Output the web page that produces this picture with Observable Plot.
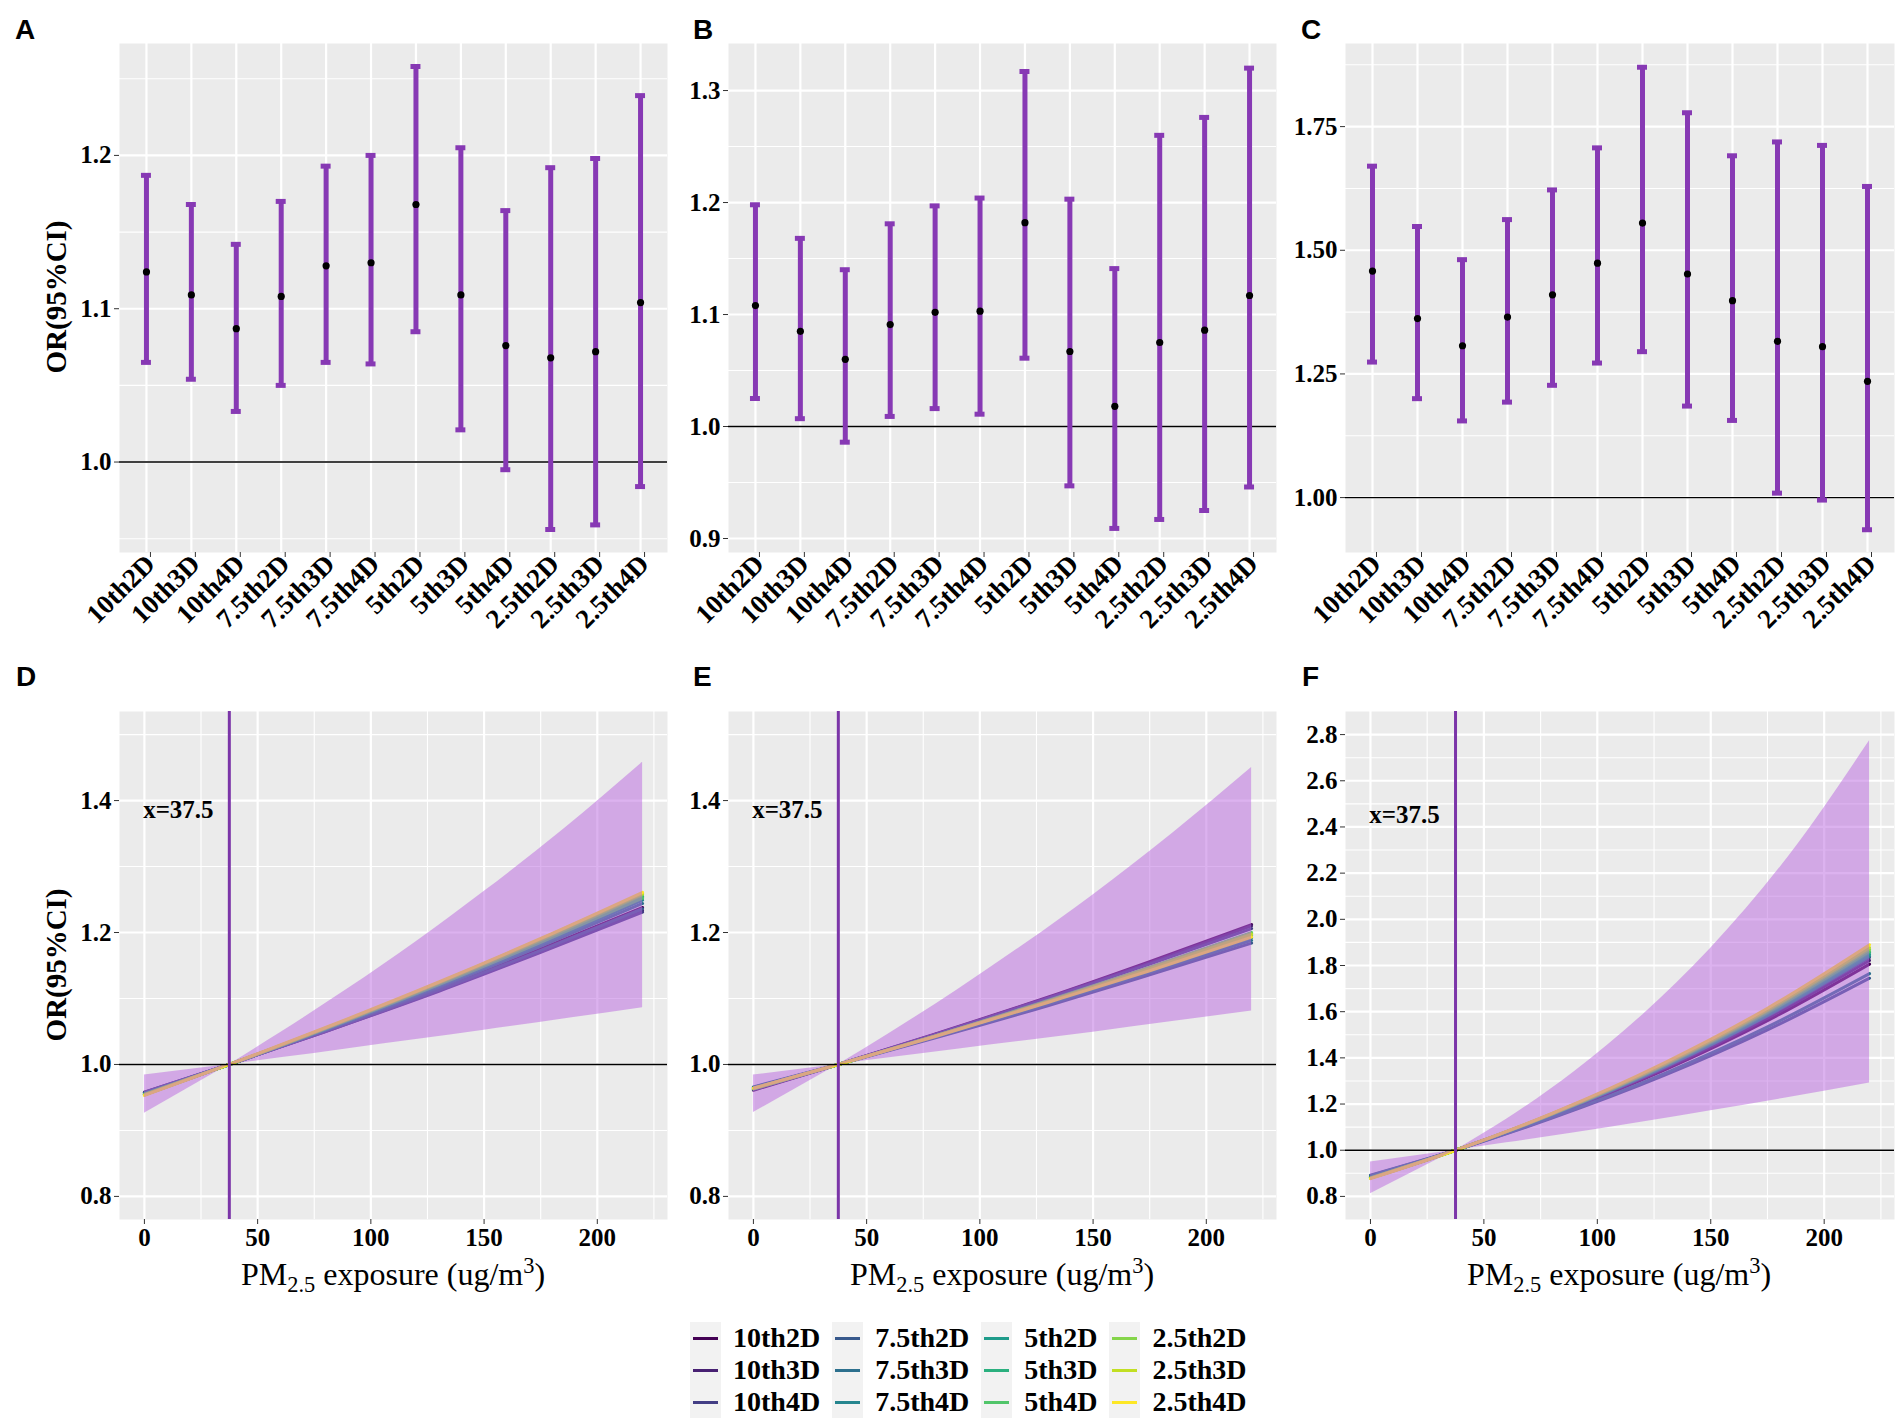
<!DOCTYPE html>
<html><head><meta charset="utf-8">
<script src="https://cdn.jsdelivr.net/npm/d3@7"></script>
<script src="https://cdn.jsdelivr.net/npm/@observablehq/plot@0.6"></script>
<style>
html,body{margin:0;padding:0;background:#fff;}
#root{position:relative;width:1901px;height:1425px;overflow:hidden;background:#fff;}
.panel{position:absolute;}
.panel svg{overflow:visible;display:block;}
.letter{position:absolute;font-family:"Liberation Sans",Arial,sans-serif;font-weight:bold;font-size:28px;line-height:28px;color:#000;}
.ytitle{position:absolute;font-family:"Liberation Serif",serif;font-weight:bold;font-size:29px;line-height:29px;white-space:nowrap;transform:translate(-50%,-50%) rotate(-90deg);color:#000;}
.xtitle{position:absolute;font-family:"Liberation Serif",serif;font-size:32px;line-height:32px;white-space:nowrap;transform:translateX(-50%);color:#000;}
.xtitle sub,.xtitle sup{font-size:70%;line-height:0;}
.legend{position:absolute;left:690px;top:1322px;display:grid;grid-template-rows:repeat(3,32px);grid-auto-flow:column;grid-auto-columns:max-content;font-family:"Liberation Serif",serif;font-weight:bold;font-size:28px;}
.legend .item{display:flex;align-items:center;height:32px;}
.legend .key{width:31px;height:32px;background:#F2F2F2;display:flex;align-items:center;justify-content:center;}
.legend .key span{display:block;width:25px;height:3px;}
.legend .lab{margin-left:12px;margin-right:12px;line-height:32px;}
</style></head><body><div id="root"></div>
<script>
// ---------- data ----------
const categories = ["10th2D","10th3D","10th4D","7.5th2D","7.5th3D","7.5th4D","5th2D","5th3D","5th4D","2.5th2D","2.5th3D","2.5th4D"];
const seriesColors = ["#440154","#482173","#433E85","#38598C","#2D708E","#25858E","#1E9B8A","#2BB07F","#51C56A","#85D54A","#C2DF23","#FDE725"];

const orA   = [1.124,1.109,1.087,1.108,1.128,1.130,1.168,1.109,1.076,1.068,1.072,1.104];
const lowA  = [1.065,1.054,1.033,1.050,1.065,1.064,1.085,1.021,0.995,0.956,0.959,0.984];
const highA = [1.187,1.168,1.142,1.170,1.193,1.200,1.258,1.205,1.164,1.192,1.198,1.239];

const orB   = [1.108,1.085,1.060,1.091,1.102,1.103,1.182,1.067,1.018,1.075,1.086,1.117];
const lowB  = [1.025,1.007,0.986,1.009,1.016,1.011,1.061,0.947,0.909,0.917,0.925,0.946];
const highB = [1.198,1.168,1.140,1.181,1.197,1.204,1.317,1.203,1.141,1.260,1.276,1.320];

const orC   = [1.458,1.362,1.307,1.365,1.410,1.474,1.555,1.452,1.398,1.316,1.305,1.235];
const lowC  = [1.274,1.200,1.155,1.193,1.227,1.272,1.295,1.185,1.156,1.009,0.995,0.935];
const highC = [1.670,1.548,1.481,1.562,1.622,1.707,1.870,1.778,1.691,1.719,1.712,1.629];

const ticksA = [1.0,1.1,1.2],  minorA = [0.95,1.05,1.15,1.25];
const ticksB = [0.9,1.0,1.1,1.2,1.3], minorB = [0.95,1.05,1.15,1.25];
const ticksC = [1.00,1.25,1.50,1.75], minorC = [1.125,1.375,1.625,1.875];

// exposure-response curves (PM2.5 exposure, OR)
const lineX = [0, 37.5, 80, 130, 175, 220];
const linesD = [
  [0.957,1,1.051,1.114,1.175,1.238],
  [0.958,1,1.050,1.112,1.171,1.233],
  [0.958,1,1.050,1.111,1.170,1.231],
  [0.957,1,1.051,1.113,1.173,1.236],
  [0.956,1,1.052,1.117,1.179,1.244],
  [0.955,1,1.053,1.119,1.182,1.249],
  [0.955,1,1.054,1.121,1.185,1.253],
  [0.954,1,1.054,1.122,1.187,1.255],
  [0.955,1,1.054,1.121,1.185,1.252],
  [0.954,1,1.055,1.123,1.188,1.257],
  [0.954,1,1.055,1.124,1.190,1.259],
  [0.953,1,1.056,1.125,1.191,1.261]
];
const linesE = [
  [0.961,1,1.046,1.102,1.156,1.212],
  [0.962,1,1.045,1.101,1.154,1.210],
  [0.962,1,1.045,1.100,1.152,1.206],
  [0.966,1,1.040,1.089,1.136,1.184],
  [0.965,1,1.041,1.091,1.139,1.188],
  [0.965,1,1.042,1.093,1.141,1.192],
  [0.964,1,1.042,1.095,1.144,1.195],
  [0.964,1,1.043,1.096,1.146,1.198],
  [0.963,1,1.043,1.097,1.147,1.200],
  [0.963,1,1.043,1.096,1.147,1.199],
  [0.964,1,1.043,1.095,1.145,1.197],
  [0.964,1,1.042,1.094,1.142,1.193]
];
const linesF = [
  [0.886,1,1.148,1.349,1.561,1.806],
  [0.884,1,1.150,1.355,1.572,1.822],
  [0.883,1,1.152,1.360,1.580,1.835],
  [0.892,1,1.139,1.326,1.521,1.745],
  [0.890,1,1.142,1.334,1.534,1.765],
  [0.882,1,1.153,1.362,1.583,1.840],
  [0.881,1,1.154,1.365,1.588,1.848],
  [0.881,1,1.155,1.368,1.593,1.856],
  [0.880,1,1.156,1.370,1.597,1.862],
  [0.879,1,1.157,1.373,1.603,1.870],
  [0.879,1,1.158,1.376,1.608,1.878],
  [0.877,1,1.160,1.381,1.615,1.890]
];
const ribbonX = [0, 37.5, 60, 90, 120, 150, 185, 220];
const upperD = [0.984,1,1.048,1.115,1.186,1.262,1.356,1.458];
const lowerD = [0.926,1,1.010,1.024,1.038,1.052,1.069,1.086];
const upperE = [0.984,1,1.047,1.113,1.183,1.257,1.350,1.450];
const lowerE = [0.927,1,1.010,1.023,1.036,1.049,1.065,1.081];
const upperF = [0.949,1,1.134,1.341,1.586,1.875,2.281,2.773];
const lowerF = [0.811,1,1.032,1.076,1.122,1.171,1.229,1.291];

const xTicks = [0,50,100,150,200], xMinor = [25,75,125,175,225];
const ticksDE = [0.8,1.0,1.2,1.4], minorDE = [0.9,1.1,1.3,1.5];
const ticksF = [0.8,1.0,1.2,1.4,1.6,1.8,2.0,2.2,2.4,2.6,2.8], minorF = [0.9,1.1,1.3,1.5,1.7,1.9,2.1,2.3,2.5,2.7];
const refX = 37.5;
const refLabel = "x=37.5";
const refLabelX = 15;
const refLabelY = {D: 1.385, E: 1.385, F: 2.45};

// ---------- styling ----------
const barColor = "#8739B4";
const vlineColor = "#7B35A8";
const ribbonFill = "#BA66E0";
const ribbonOpacity = 0.5;
const bg = "#EBEBEB";
const tickFont = 25;
const catFont = 27;
const baseStyle = {background:"transparent", overflow:"visible", fontFamily:"'Liberation Serif', serif", fontWeight:"bold", fontSize:"25px", color:"black"};
const root = document.getElementById("root");

function place(svg, left, top, w, h) {
  const d = document.createElement("div");
  d.className = "panel";
  d.style.left = left + "px"; d.style.top = top + "px";
  d.style.width = w + "px"; d.style.height = h + "px";
  d.appendChild(svg);
  root.appendChild(d);
}

function topPanel(or, low, high, domain, ticks, minor, dec, geo) {
  const rows = categories.map((c, i) => ({cat: c, or: or[i], low: low[i], high: high[i]}));
  const svg = Plot.plot({
    width: geo.w, height: 650,
    marginLeft: geo.ml, marginRight: geo.mr, marginTop: 43, marginBottom: 98,
    style: baseStyle,
    x: {type: "band", domain: categories, paddingInner: 0.778, paddingOuter: 0.489, round: false},
    y: {domain},
    marks: [
      Plot.frame({fill: bg, stroke: "none"}),
      Plot.gridY(minor, {stroke: "white", strokeOpacity: 1, strokeWidth: 1.1}),
      Plot.gridY(ticks, {stroke: "white", strokeOpacity: 1, strokeWidth: 2.2}),
      Plot.gridX(categories, {stroke: "white", strokeOpacity: 1, strokeWidth: 2.2}),
      Plot.ruleY([1], {stroke: "black", strokeWidth: 1.4}),
      Plot.ruleX(rows, {x: "cat", y1: "low", y2: "high", stroke: barColor, strokeWidth: 5}),
      Plot.tickY(rows, {x: "cat", y: "high", stroke: barColor, strokeWidth: 5}),
      Plot.tickY(rows, {x: "cat", y: "low", stroke: barColor, strokeWidth: 5}),
      Plot.dot(rows, {x: "cat", y: "or", r: 3.6, fill: "black", stroke: "none"}),
      Plot.axisY(ticks, {tickFormat: d3.format("." + dec + "f"), tickSize: 5, tickPadding: 3, stroke: "#333", label: null, fontSize: tickFont}),
      Plot.axisX({tickRotate: -45, tickSize: 5, tickPadding: 2, dx: 4, stroke: "#333", label: null, fontSize: catFont})
    ]
  });
  place(svg, geo.left, 0, geo.w, 650);
}

function bottomPanel(lines, upper, lower, domain, ticks, minor, labelY, geo) {
  const lineRows = [];
  lines.forEach((vals, s) => vals.forEach((v, j) => lineRows.push({series: categories[s], x: lineX[j], y: v})));
  const band = ribbonX.map((x, j) => ({x, lo: lower[j], hi: upper[j]}));
  const bandLeft = band.filter(d => d.x <= refX);
  const bandRight = band.filter(d => d.x >= refX);
  const svg = Plot.plot({
    width: geo.w, height: 660,
    marginLeft: geo.ml, marginRight: geo.mr, marginTop: 61, marginBottom: 91,
    style: baseStyle,
    x: {domain: [-11, 231]},
    y: {domain},
    color: {domain: categories, range: seriesColors},
    marks: [
      Plot.frame({fill: bg, stroke: "none"}),
      Plot.gridY(minor, {stroke: "white", strokeOpacity: 1, strokeWidth: 1.1}),
      Plot.gridX(xMinor, {stroke: "white", strokeOpacity: 1, strokeWidth: 1.1}),
      Plot.gridY(ticks, {stroke: "white", strokeOpacity: 1, strokeWidth: 2.2}),
      Plot.gridX(xTicks, {stroke: "white", strokeOpacity: 1, strokeWidth: 2.2}),
      Plot.line(lineRows, {x: "x", y: "y", z: "series", stroke: "series", strokeWidth: 3, curve: "monotone-x"}),
      Plot.areaY(bandLeft, {x: "x", y1: "lo", y2: "hi", fill: ribbonFill, fillOpacity: ribbonOpacity, curve: "linear"}),
      Plot.areaY(bandRight, {x: "x", y1: "lo", y2: "hi", fill: ribbonFill, fillOpacity: ribbonOpacity, curve: "monotone-x"}),
      Plot.ruleY([1], {stroke: "black", strokeWidth: 1.4}),
      Plot.ruleX([refX], {stroke: vlineColor, strokeWidth: 3}),
      Plot.text([refLabel], {x: refLabelX, y: labelY, text: d => d, fontSize: 25, fontWeight: "bold", fill: "black"}),
      Plot.axisY(ticks, {tickFormat: d3.format(".1f"), tickSize: 5, tickPadding: 3, stroke: "#333", label: null, fontSize: tickFont}),
      Plot.axisX(xTicks, {tickSize: 5, tickPadding: 4, stroke: "#333", label: null, fontSize: tickFont})
    ]
  });
  place(svg, geo.left, 650, geo.w, 660);
}

const geoA = {left: 0, w: 680, ml: 119, mr: 13};
const geoB = {left: 680, w: 605, ml: 48, mr: 9};
const geoC = {left: 1285, w: 616, ml: 60, mr: 7};

topPanel(orA, lowA, highA, [0.941, 1.273], ticksA, minorA, 1, geoA);
topPanel(orB, lowB, highB, [0.8875, 1.342], ticksB, minorB, 1, geoB);
topPanel(orC, lowC, highC, [0.889, 1.918], ticksC, minorC, 2, geoC);
bottomPanel(linesD, upperD, lowerD, [0.765, 1.535], ticksDE, minorDE, refLabelY.D, geoA);
bottomPanel(linesE, upperE, lowerE, [0.765, 1.535], ticksDE, minorDE, refLabelY.E, geoB);
bottomPanel(linesF, upperF, lowerF, [0.7, 2.9], ticksF, minorF, refLabelY.F, geoC);

// ---------- text ----------
function addDiv(cls, html, styles) {
  const d = document.createElement("div");
  d.className = cls; d.innerHTML = html;
  Object.assign(d.style, styles);
  root.appendChild(d);
  return d;
}
const letters = [["A",15,16],["B",693,16],["C",1301,16],["D",16,663],["E",693,663],["F",1302,663]];
letters.forEach(([t,x,y]) => addDiv("letter", t, {left: x + "px", top: y + "px"}));
addDiv("ytitle", "OR(95%CI)", {left: "56px", top: "297px"});
addDiv("ytitle", "OR(95%CI)", {left: "56px", top: "965px"});
const xTitle = "PM<sub>2.5</sub> exposure (ug/m<sup>3</sup>)";
[393, 1002, 1619].forEach(cx => addDiv("xtitle", xTitle, {left: cx + "px", top: "1258px"}));

// ---------- legend ----------
const leg = document.createElement("div");
leg.className = "legend";
categories.forEach((c, i) => {
  const item = document.createElement("div");
  item.className = "item";
  item.innerHTML = `<div class="key"><span style="background:${seriesColors[i]}"></span></div><div class="lab">${c}</div>`;
  leg.appendChild(item);
});
root.appendChild(leg);
</script></body></html>
